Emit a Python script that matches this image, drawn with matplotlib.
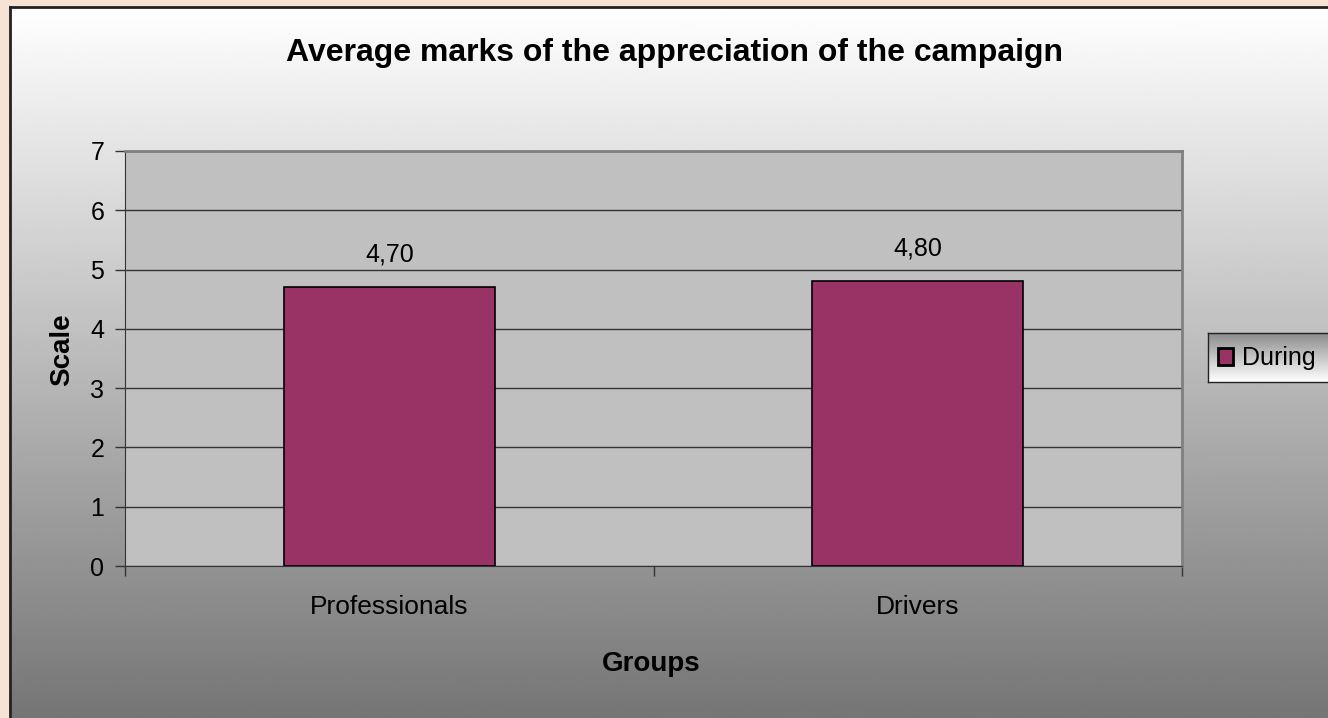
import numpy as np
import matplotlib
matplotlib.use("Agg")
import matplotlib.pyplot as plt
from matplotlib.patches import Rectangle

plt.rcParams['font.family'] = ['Liberation Sans', 'DejaVu Sans']

groups = ["Professionals", "Drivers"]
during = [4.70, 4.80]
value_labels = ["4,70", "4,80"]
yticks = [0, 1, 2, 3, 4, 5, 6, 7]

W, H = 1328, 718
fig = plt.figure(figsize=(W / 100, H / 100), dpi=100)
fig.patch.set_facecolor("#f7e3d3")

# chart area background: white -> grey gradient
bg = fig.add_axes([10/W, 0, 1 - 10/W, 1 - 7/H])
grad = np.linspace(1.0, 0.46, 256).reshape(-1, 1)
bg.imshow(grad, cmap="gray", vmin=0, vmax=1, aspect="auto", extent=[0, 1, 0, 1])
bg.set_xticks([])
bg.set_yticks([])
for s in ["right", "bottom"]:
    bg.spines[s].set_visible(False)
for s in ["left", "top"]:
    bg.spines[s].set_linewidth(2)
    bg.spines[s].set_color("#222222")

# legend box with its own gradient
lb = fig.add_axes([1208/W, 1 - 382/H, (W - 1208 + 5)/W, 49/H])
lgrad = np.linspace(0.55, 1.0, 64).reshape(-1, 1)
lb.imshow(lgrad, cmap="gray", vmin=0, vmax=1, aspect="auto", extent=[0, 1, 0, 1])
lb.set_xticks([])
lb.set_yticks([])
lb.spines["right"].set_visible(False)
for s in ["left", "top", "bottom"]:
    lb.spines[s].set_color("#222222")
    lb.spines[s].set_linewidth(1)

ax = fig.add_axes([125/W, 1 - 566/H, (1182-125)/W, (566-151)/H])
ax.set_zorder(5)
ax.set_facecolor("#c0c0c0")
x = np.arange(len(groups))
ax.bar(x, during, width=0.4, color="#993366", edgecolor="black", linewidth=1.2, zorder=3)
for xi, v, lab in zip(x, during, value_labels):
    ax.text(xi, v + 0.44, lab, ha="center", va="baseline", fontsize=18)

ax.set_xlim(-0.5, len(groups) - 0.5)
ax.set_ylim(0, 7)
ax.set_yticks(yticks)
ax.tick_params(axis="y", labelsize=18, length=7, width=1, color="#333333", pad=8)
ax.set_xticks(x)
ax.set_xticklabels(groups, fontsize=19)
ax.set_xticks(np.arange(-0.5, len(groups), 1.0), minor=True)
ax.tick_params(axis="x", which="major", length=0, pad=21)
ax.tick_params(axis="x", which="minor", length=7, width=1, color="#333333", direction="out")
ax.grid(axis="y", color="#333333", linewidth=1, zorder=1)
ax.set_axisbelow(True)
for s in ["top", "right"]:
    ax.spines[s].set_color("#808080")
    ax.spines[s].set_linewidth(2)
for s in ["left", "bottom"]:
    ax.spines[s].set_color("#333333")

fig.text(62/W, 1 - 350/H, "Scale", rotation=90, ha="center", va="center",
         fontsize=20, fontweight="bold")
fig.text(651/W, 1 - 664/H, "Groups", ha="center", va="center",
         fontsize=20, fontweight="bold")
fig.text(675/W, 1 - 61/H, "Average marks of the appreciation of the campaign",
         ha="center", va="baseline", fontsize=23, fontweight="bold")

leg = ax.legend(handles=[Rectangle((0, 0), 1, 1, facecolor="#993366", edgecolor="black",
                                   linewidth=2, label="During")],
                loc="center left", bbox_to_anchor=(1210/W, 1 - 358/H), bbox_transform=fig.transFigure,
                fontsize=18, frameon=False, handlelength=0.6, handleheight=0.7,
                handletextpad=0.4, borderpad=0.3, borderaxespad=0)

fig.savefig("out.png", dpi=100, facecolor=fig.get_facecolor())
